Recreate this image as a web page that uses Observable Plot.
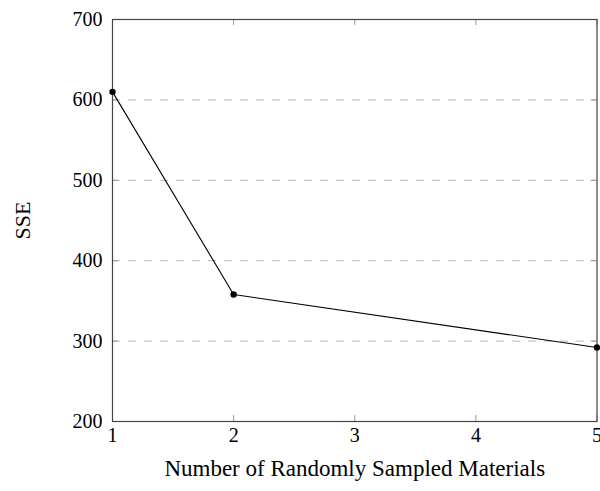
<!DOCTYPE html>
<html>
<head>
<meta charset="utf-8">
<script src="https://cdn.jsdelivr.net/npm/d3@7"></script>
<script src="https://cdn.jsdelivr.net/npm/@observablehq/plot@0.6"></script>
<style>
  html, body { margin: 0; padding: 0; background: #fff; }
  svg { display: block; }
</style>
</head>
<body>
<div id="chart"></div>
<script>
const materials = [1, 2, 5];
const sse = [610, 358, 292];
const xTicks = [1, 2, 3, 4, 5];
const yTicks = [200, 300, 400, 500, 600, 700];
const gridLines = [300, 400, 500, 600];
const xLabel = "Number of Randomly Sampled Materials";
const yLabel = "SSE";

const data = materials.map((m, i) => ({m, v: sse[i]}));

const W = 600, H = 491;
const mL = 112, mR = 3.5, mT = 19, mB = 70;
const innerW = W - mL - mR, innerH = H - mT - mB;
const tick = 6;
const font = "'Liberation Serif', 'DejaVu Serif', serif";

const chart = Plot.plot({
  width: W,
  height: H,
  marginLeft: mL,
  marginRight: mR,
  marginTop: mT,
  marginBottom: mB,
  style: {fontFamily: font, fontSize: "20px", color: "#000", background: "#fff"},
  x: {domain: [1, 5]},
  y: {domain: [200, 700]},
  marks: [
    Plot.ruleY(gridLines, {y: d => d, stroke: "#bbb", strokeWidth: 1, strokeDasharray: "8,8"}),
    // inward ticks
    Plot.ruleX(xTicks, {x: d => d, insetTop: innerH - tick, stroke: "#999"}),
    Plot.ruleX(xTicks, {x: d => d, insetBottom: innerH - tick, stroke: "#999"}),
    Plot.ruleY(yTicks, {y: d => d, insetRight: innerW - tick, stroke: "#999"}),
    Plot.ruleY(yTicks, {y: d => d, insetLeft: innerW - tick, stroke: "#999"}),
    Plot.frame({stroke: "#444", strokeWidth: 1.2}),
    Plot.axisX(xTicks, {tickSize: 0, tickPadding: 6, fontSize: 20, tickFormat: "d", label: null}),
    Plot.axisY(yTicks, {tickSize: 0, tickPadding: 10, fontSize: 20, tickFormat: "d", label: null}),
    Plot.axisX({ticks: [], tickSize: 0, fontSize: 23, label: xLabel, labelAnchor: "center", labelOffset: 54, labelArrow: "none"}),
    Plot.axisY({ticks: [], tickSize: 0, fontSize: 22, label: yLabel, labelAnchor: "center", labelOffset: 98, labelArrow: "none"}),
    Plot.line(data, {x: "m", y: "v", stroke: "#000", strokeWidth: 1.1}),
    Plot.dot(data, {x: "m", y: "v", fill: "#000", r: 3.2})
  ]
});
document.getElementById("chart").appendChild(chart);
</script>
</body>
</html>
